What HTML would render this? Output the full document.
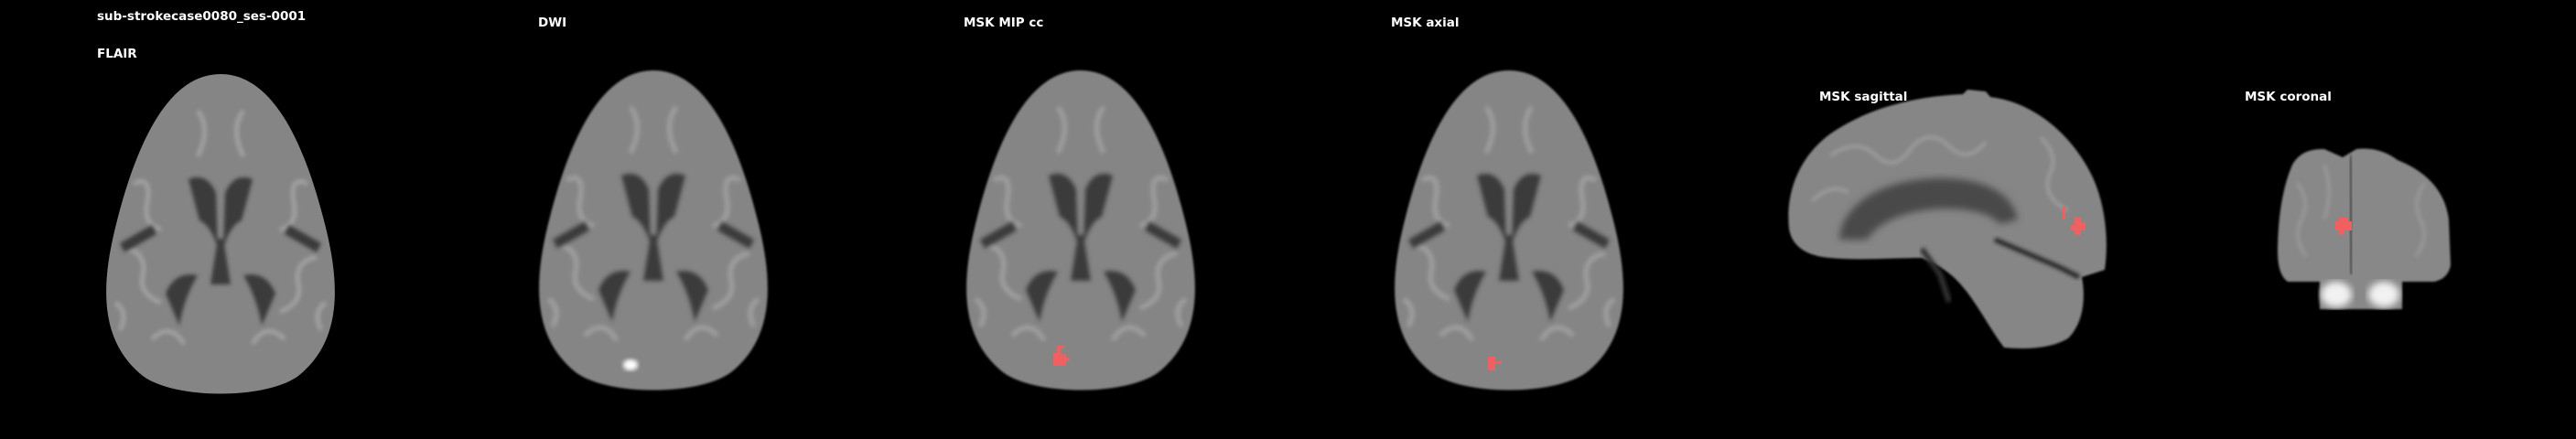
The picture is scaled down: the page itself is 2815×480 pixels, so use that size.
<!DOCTYPE html>
<html><head><meta charset="utf-8"><style>
html,body{margin:0;padding:0;background:#000;width:2815px;height:480px;overflow:hidden}
svg{display:block}
text{font-family:"DejaVu Sans","Liberation Sans",sans-serif;font-weight:bold;font-size:13.5px;fill:#fff}
</style></head><body>
<svg width="2815" height="480" viewBox="0 0 2815 480">
<defs>
<filter id="b2"><feGaussianBlur stdDeviation="2"/></filter>
<filter id="b4"><feGaussianBlur stdDeviation="4"/></filter>
<filter id="b1"><feGaussianBlur stdDeviation="1"/></filter>
<g id="axial">
  <path d="M135,0 C80,0 45,70 22,160 C5,225 0,290 50,330 C85,356 185,356 220,330 C270,290 265,225 248,160 C225,70 190,0 135,0 Z" fill="#858585"/>
  <g filter="url(#b2)" fill="none" stroke="#b0b0b0" stroke-width="5" opacity="0.65">
    <path d="M40,120 q20,-10 15,20 q-5,25 15,30 M30,190 q25,5 20,30 q-5,20 20,30 M60,290 q20,-20 35,5 M230,120 q-20,-10 -15,20 q5,25 -15,30 M240,200 q-25,5 -20,30 q5,20 -20,30 M205,290 q-20,-20 -35,5 M110,40 q15,20 0,50 M160,40 q-15,20 0,50 M20,250 q15,10 5,30 M250,250 q-15,10 -5,30"/>
  </g>
  <path d="M135,5 L135,120 M135,230 L135,345" stroke="#333" stroke-width="4" filter="url(#b1)"/>
  <g fill="#3a3a3a" filter="url(#b2)">
    <path d="M100,115 q20,-8 30,15 l2,60 q-8,-25 -20,-30 Z"/>
    <path d="M170,115 q-20,-8 -30,15 l-2,60 q8,-25 20,-30 Z"/>
    <path d="M132,180 l6,0 l8,50 l-22,0 Z"/>
    <path d="M75,240 q10,-25 35,-20 q-15,25 -20,55 Z"/>
    <path d="M195,240 q-10,-25 -35,-20 q15,25 20,55 Z"/>
    <path d="M25,185 l35,-20 l5,10 l-35,20 Z"/>
    <path d="M245,185 l-35,-20 l-5,10 l35,20 Z"/>
  </g>
</g>
</defs>

<text x="106" y="22">sub-strokecase0080_ses-0001</text>
<text x="106" y="63">FLAIR</text>
<text x="588" y="29">DWI</text>
<text x="1053" y="29">MSK MIP cc</text>
<text x="1520" y="29">MSK axial</text>
<text x="1988" y="110">MSK sagittal</text>
<text x="2453" y="110">MSK coronal</text>

<g transform="translate(106,81)"><use href="#axial"/></g>
<g transform="translate(579,77)" filter="url(#b1)"><use href="#axial"/>
  <ellipse cx="110" cy="322" rx="8" ry="6" fill="#fff" filter="url(#b2)"/></g>
<g transform="translate(1046,77)" filter="url(#b1)"><use href="#axial"/></g>
<path d="M1155,378 h8 v3 h-4 v6 h6 v4 h4 v4 h-4 v5 h-14 v-14 h4 Z" fill="#f06060"/>
<g transform="translate(1514,77)" filter="url(#b1)"><use href="#axial"/></g>
<path d="M1626,390 h8 v5 h7 v3 h-7 v7 h-8 Z" fill="#f06060"/>

<g>
  <path d="M1955,250 C1950,200 1975,160 2010,140 C2050,115 2100,105 2145,103 L2150,98 L2170,100 L2175,106 C2225,112 2265,150 2285,190 C2300,220 2305,260 2300,295 L2275,303 C2280,330 2275,355 2260,370 C2240,382 2210,382 2190,380 C2175,360 2165,340 2150,320 C2135,300 2120,290 2100,282 C2070,282 2030,285 2000,282 C1975,280 1958,270 1955,250 Z" fill="#868686" filter="url(#b1)"/>
  <g filter="url(#b2)" fill="none" stroke="#aaa" stroke-width="4" opacity="0.6">
    <path d="M2000,170 q30,-20 50,0 q20,20 40,-10 q20,-20 40,0 q20,20 40,-5 M1980,220 q20,-20 40,-10 M2230,150 q20,20 10,40 q-10,25 20,40"/>
  </g>
  <path d="M2010,262 C2012,222 2060,195 2120,195 C2175,195 2200,215 2205,240 L2185,245 C2170,222 2070,218 2040,262 Z" fill="#4a4a4a" filter="url(#b4)"/>
  <path d="M2180,262 L2250,292 L2272,303" stroke="#222" stroke-width="5" fill="none" filter="url(#b2)"/>
  <path d="M2100,272 L2120,300 L2130,330" stroke="#333" stroke-width="6" fill="none" filter="url(#b2)"/>
</g>
<path d="M2254,226 h3 v14 h-3 Z M2267,238 h7 v5 h5 v9 h-5 v5 h-7 v-5 h-4 v-6 h4 Z" fill="#f06060"/>

<g>
  <path d="M2505,180 Q2515,162 2540,163 L2560,172 L2575,163 Q2600,160 2620,175 Q2670,195 2676,240 L2678,290 Q2675,305 2660,308 L2500,308 Q2488,300 2489,270 Q2490,215 2505,180 Z" fill="#888" filter="url(#b1)"/>
  <g filter="url(#b2)" fill="none" stroke="#aaa" stroke-width="3" opacity="0.6">
    <path d="M2510,200 q15,20 5,40 q-10,20 5,40 M2650,200 q-15,20 -5,40 q10,20 -5,40 M2540,180 q10,30 0,60"/>
  </g>
  <path d="M2568,170 L2570,305" stroke="#4a4a4a" stroke-width="4" filter="url(#b2)"/>
  <rect x="2535" y="300" width="90" height="38" fill="#888" filter="url(#b1)"/>
  <ellipse cx="2553" cy="322" rx="17" ry="14" fill="#f2f2f2" filter="url(#b4)"/>
  <ellipse cx="2605" cy="322" rx="17" ry="14" fill="#f2f2f2" filter="url(#b4)"/>
</g>
<path d="M2556,238 h10 v4 h4 v10 h-8 v5 h-6 v-5 h-4 v-10 h4 Z" fill="#f06060"/>
</svg>
</body></html>
